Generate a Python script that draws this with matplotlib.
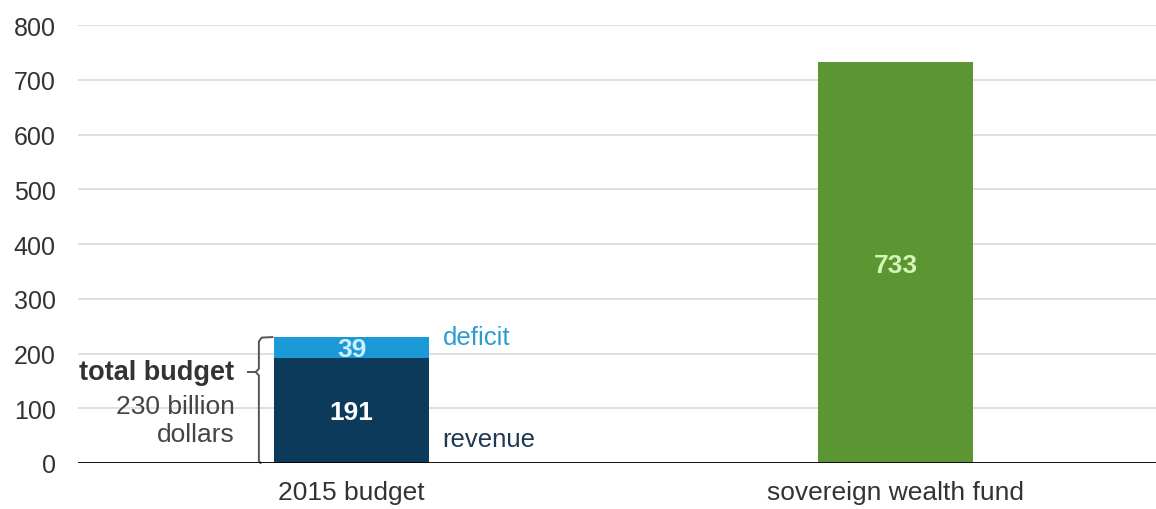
import matplotlib.pyplot as plt
import numpy as np

plt.rcParams['font.family'] = ['Liberation Sans', 'DejaVu Sans']

categories = ['2015 budget', 'sovereign wealth fund']
revenue = [191, 0]
deficit = [39, 0]
fund = [0, 733]
yticks = [0, 100, 200, 300, 400, 500, 600, 700, 800]

c_rev = '#0b3a5a'
c_def = '#1b9ad8'
c_fund = '#5b9632'

fig = plt.figure(figsize=(11.56, 5.10), dpi=100)
ax = fig.add_axes([0.0675, 0.0902, 0.9325, 0.8588])

x = np.arange(len(categories))
w = 0.285

ax.bar(x[0], revenue[0], w, color=c_rev, zorder=3)
ax.bar(x[0], deficit[0], w, bottom=revenue[0], color=c_def, zorder=3)
ax.bar(x[1], fund[1], w, color=c_fund, zorder=3)

# value labels
ax.text(x[0], revenue[0] / 2 - 3, str(revenue[0]), ha='center', va='center',
        color='white', fontsize=19, fontweight='bold', zorder=4)
ax.text(x[0], revenue[0] + deficit[0] / 2 - 2, str(deficit[0]), ha='center', va='center',
        color='#cdeefa', fontsize=19, fontweight='bold', zorder=4)
ax.text(x[1], fund[1] / 2 - 4, str(fund[1]), ha='center', va='center',
        color='#d4f5b4', fontsize=19, fontweight='bold', zorder=4)

# side labels
ax.text(x[0] + w / 2 + 0.025, revenue[0] + deficit[0] + 1, 'deficit', ha='left', va='center',
        color='#2b9cd2', fontsize=18.5)
ax.text(x[0] + w / 2 + 0.025, 44, 'revenue', ha='left', va='center',
        color='#1e3a52', fontsize=18.5)

# brace for total budget
total = revenue[0] + deficit[0]
bx = x[0] - w / 2 - 0.028
brace_x = [bx + 0.025, bx + 0.005, bx, bx, bx - 0.006, bx, bx, bx + 0.003]
brace_y = [total, total - 1, total - 8, 172, 166, 160, 4, 0]
ax.plot(brace_x, brace_y, color='#555555', lw=1.4, zorder=4, clip_on=False)
ax.plot([bx - 0.006, bx - 0.020], [166, 166], color='#555555', lw=1.4, zorder=4, clip_on=False)

ax.text(bx - 0.045, 166, 'total budget', ha='right', va='center',
        color='#333333', fontsize=19.5, fontweight='bold')
ax.text(bx - 0.045, 104, '230 billion', ha='right', va='center',
        color='#444444', fontsize=19)
ax.text(bx - 0.045, 53, 'dollars', ha='right', va='center',
        color='#444444', fontsize=19)

ax.set_xlim(-0.503, 1.479)
ax.set_ylim(0, 800)
ax.set_yticks(yticks)
ax.set_xticks(x)
ax.set_xticklabels(categories)
ax.tick_params(axis='both', length=0, labelsize=18, colors='#333333')
ax.tick_params(axis='x', pad=12, labelsize=19)
ax.tick_params(axis='y', pad=16)

ax.grid(axis='y', color='#d9d9d9', lw=1.2, zorder=0)
for s in ax.spines.values():
    s.set_visible(False)
ax.axhline(0, color='black', lw=1.3, zorder=5)

fig.savefig('out.png', dpi=100)
